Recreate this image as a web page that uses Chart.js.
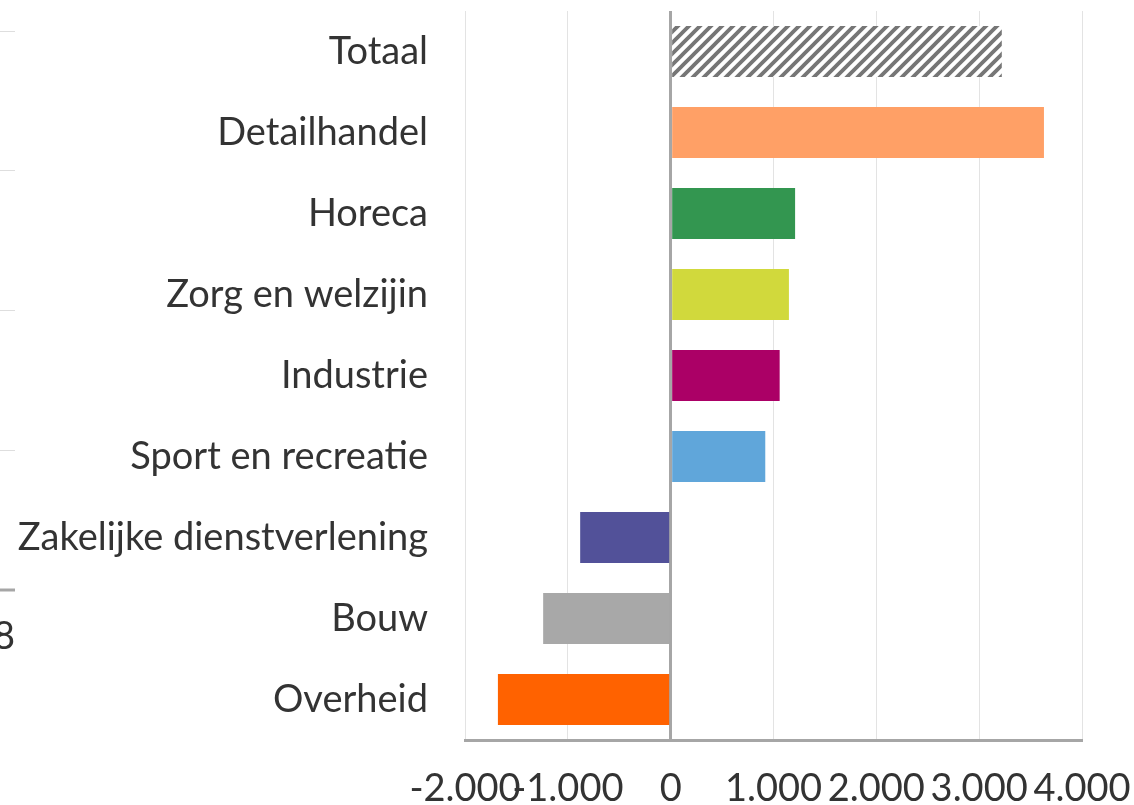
<!DOCTYPE html>
<html>
<head>
<meta charset="utf-8">
<script src="https://cdn.jsdelivr.net/npm/chart.js@4"></script>
<style>
    html, body { margin: 0; padding: 0; background: #fff; }
    #wrap { width: 1134px; height: 805px; }
</style>
</head>
<body>
<div id="wrap"><canvas id="chart" width="1134" height="805"></canvas></div>
<script>
// Banen per sector (verschil)
const categories = ['Totaal', 'Detailhandel', 'Horeca', 'Zorg en welzijin', 'Industrie',
    'Sport en recreatie', 'Zakelijke dienstverlening', 'Bouw', 'Overheid'];
const values = [3220, 3630, 1210, 1150, 1060, 920, -880, -1240, -1680];
const xTicks = [-2000, -1000, 0, 1000, 2000, 3000, 4000];

const FONT = 'Lato, "Open Sans", sans-serif';
const FONT_SIZE = 38;

// diagonal hatch for the total bar
function makeHatch() {
    const c = document.createElement('canvas');
    c.width = 11;
    c.height = 11;
    const g = c.getContext('2d');
    g.fillStyle = '#ffffff';
    g.fillRect(0, 0, 11, 11);
    g.strokeStyle = '#767676';
    g.lineWidth = 3.8;
    g.beginPath();
    g.moveTo(-2, 13); g.lineTo(13, -2);
    g.moveTo(-2, 2); g.lineTo(2, -2);
    g.moveTo(9, 13); g.lineTo(13, 9);
    g.stroke();
    return g.createPattern(c, 'repeat');
}

const ctx = document.getElementById('chart').getContext('2d');
const colors = [makeHatch(), '#ffa066', '#339650', '#d1d93c', '#ab0066',
    '#60a6da', '#525199', '#a8a8a8', '#ff6200'];

function fmt(v) {
    const s = Math.abs(v).toString().replace(/\B(?=(\d{3})+(?!\d))/g, '.');
    return (v < 0 ? '-' : '') + s;
}

function noPadding(scale) {
    scale.paddingTop = 0;
    scale.paddingBottom = 0;
    scale.paddingLeft = 0;
    scale.paddingRight = 0;
}

// remnants of the neighbouring chart at the left edge
const cropEdge = {
    id: 'cropEdge',
    afterDraw(chart) {
        const g = chart.ctx;
        g.save();
        g.strokeStyle = '#dedede';
        g.lineWidth = 1;
        [31, 170, 310, 450].forEach(y => {
            g.beginPath();
            g.moveTo(0, y + 0.5);
            g.lineTo(15, y + 0.5);
            g.stroke();
        });
        g.strokeStyle = '#a6a6a6';
        g.lineWidth = 3;
        g.beginPath();
        g.moveTo(0, 590);
        g.lineTo(15, 590);
        g.stroke();
        g.fillStyle = '#333333';
        g.font = FONT_SIZE + 'px ' + FONT;
        g.textAlign = 'right';
        g.textBaseline = 'middle';
        g.fillText('8', 15, 637);
        g.restore();
    }
};

new Chart(ctx, {
    type: 'bar',
    data: {
        labels: categories,
        datasets: [{
            data: values,
            backgroundColor: colors,
            borderWidth: 0,
            categoryPercentage: 1,
            barPercentage: 0.63
        }]
    },
    options: {
        indexAxis: 'y',
        responsive: false,
        animation: false,
        layout: { padding: { top: 11, right: 52, bottom: 0, left: 0 } },
        plugins: {
            legend: { display: false },
            tooltip: { enabled: false }
        },
        scales: {
            x: {
                min: -2000,
                max: 4000,
                afterBuildTicks: (scale) => {
                    scale.ticks = xTicks.map(v => ({ value: v }));
                },
                afterFit: (scale) => {
                    scale.height = 65;
                    noPadding(scale);
                },
                ticks: {
                    color: '#333333',
                    font: { family: FONT, size: FONT_SIZE },
                    padding: 26,
                    maxRotation: 0,
                    autoSkip: false,
                    callback: (v) => fmt(v)
                },
                grid: {
                    drawTicks: false,
                    color: (c) => c.tick && c.tick.value === 0 ? '#a6a6a6' : '#e3e3e3',
                    lineWidth: (c) => c.tick && c.tick.value === 0 ? 3 : 1
                },
                border: { display: true, color: '#a6a6a6', width: 3 }
            },
            y: {
                afterFit: (scale) => {
                    scale.width = 465;
                    noPadding(scale);
                },
                ticks: {
                    color: '#333333',
                    font: { family: FONT, size: FONT_SIZE },
                    padding: 37
                },
                grid: { display: false, drawTicks: false },
                border: { display: false }
            }
        }
    },
    plugins: [cropEdge]
});
</script>
</body>
</html>
